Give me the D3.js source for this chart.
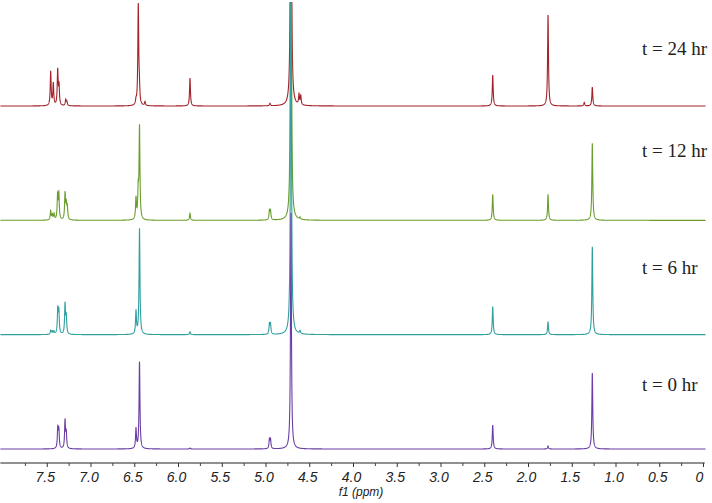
<!DOCTYPE html>
<html>
<head>
<meta charset="utf-8">
<script src="https://cdn.jsdelivr.net/npm/d3@7"></script>
<style>
  body { margin: 0; background: #fff; }
</style>
</head>
<body>
<script>
var w = 712, h = 503;

// spectra, top to bottom
var labels = ["t = 24 hr", "t = 12 hr", "t = 6 hr", "t = 0 hr"];
var colors = ["#a3232a", "#6a9d2c", "#2f9f9f", "#6a3ea4"];

// peak lists: [shift (ppm), intensity]
var peaks24 = [[7.455,34],[7.425,22],[7.375,35],[7.36,19],[7.283,6],[7.27,4],
  [6.48,4],[6.454,100],[6.442,14],[6.377,4],[5.863,28],[4.949,2.5],
  [4.617,10],[4.597,9],[2.403,31],[1.771,91],[1.357,3.5],[1.265,19]];
var peaks12 = [[7.455,9],[7.437,5],[7.417,6],[7.376,24],[7.362,25],
  [7.291,26],[7.277,14],[7.265,12],[6.48,21],[6.455,26],[6.44,92],
  [5.863,7],[4.955,9],[4.943,9],[4.606,2],[2.403,26],[1.771,26],[1.265,77]];
var peaks6 = [[7.455,4],[7.437,3],[7.417,3],[7.374,24],[7.362,22],
  [7.291,30],[7.277,17],[6.48,23],[6.44,106],[5.863,3],
  [4.955,10],[4.943,10],[4.606,3],[2.403,28],[1.771,13],[1.265,88]];
var peaks0 = [[7.374,20],[7.362,18],[7.291,28],[7.277,15],
  [6.48,20],[6.44,87],[5.863,1],[4.955,9],[4.943,9],
  [2.403,24],[1.771,3],[1.265,76]];
var allPeaks = [peaks24, peaks12, peaks6, peaks0];

// residual water signal
var solventShift = 4.709;
var solventHeight = [420, 420, 420, 236];

var majorTicks = d3.range(0, 7.51, 0.5);
var minorTicks = d3.range(0.25, 7.8, 0.5);

var svg = d3.select("body").append("svg")
  .attr("width", w)
  .attr("height", h);

var x = d3.scaleLinear().domain([8, 0]).range([3, 703]);
var stack = d3.scalePoint().domain(labels).range([106, 449]);

svg.append("clipPath").attr("id", "clip")
  .append("rect").attr("x", 0).attr("y", 2).attr("width", w).attr("height", 459);

var grid = d3.range(8.03, -0.03, -0.001);

function lorentz(p, c, hw) {
  var d = (p - c) / hw;
  return 1 / (1 + d * d);
}

var plot = svg.append("g").attr("clip-path", "url(#clip)");

labels.forEach(function(lab, i) {
  var base = stack(lab);
  var y = d3.scaleLinear().domain([0, 100]).range([base, base - 100]);
  var pts = grid.map(function(p) {
    var v = solventHeight[i] * lorentz(p, solventShift, 0.0062);
    allPeaks[i].forEach(function(pk) { v += pk[1] * lorentz(p, pk[0], 0.006); });
    return [p, v];
  });
  var line = d3.line()
    .x(function(d) { return x(d[0]); })
    .y(function(d) { return y(d[1]); });
  plot.append("path")
    .datum(pts)
    .attr("d", line)
    .attr("fill", "none")
    .attr("stroke", colors[i])
    .attr("stroke-width", 1.1);
});

// time labels
var labelY = [55, 157, 274, 391];
svg.selectAll(".tlab").data(labels).enter().append("text")
  .attr("x", 642)
  .attr("y", function(d, i) { return labelY[i]; })
  .attr("font-family", "Liberation Serif, serif")
  .attr("font-size", 19)
  .attr("fill", "#222")
  .text(function(d) { return d; });

// axis
var axisY = 463;
var ax = svg.append("g").attr("transform", "translate(0," + axisY + ")");
ax.append("line")
  .attr("x1", x(8.03)).attr("x2", x(-0.02))
  .attr("stroke", "#222").attr("stroke-width", 1.2);

ax.append("g")
  .call(d3.axisBottom(x).tickValues(minorTicks).tickSize(3).tickFormat(""))
  .call(function(g) { g.select(".domain").remove(); })
  .selectAll("line").attr("stroke", "#444");

var major = ax.append("g")
  .call(d3.axisBottom(x).tickValues(majorTicks).tickSize(4)
    .tickFormat(function(d) { return d === 0 ? "0" : d.toFixed(1); }))
  .call(function(g) { g.select(".domain").remove(); });
major.selectAll("line").attr("stroke", "#333");
major.selectAll("text")
  .attr("y", 9)
  .attr("dx", function(d) { return d === 0 ? -4 : -2; })
  .attr("fill", "#222")
  .attr("font-family", "Liberation Sans, Arial, sans-serif")
  .attr("font-style", "italic")
  .attr("font-size", 14);

svg.append("text")
  .attr("x", 361)
  .attr("y", 496)
  .attr("text-anchor", "middle")
  .attr("font-family", "Liberation Sans, Arial, sans-serif")
  .attr("font-style", "italic")
  .attr("font-size", 12)
  .attr("fill", "#222")
  .text("f1 (ppm)");
</script>
</body>
</html>
